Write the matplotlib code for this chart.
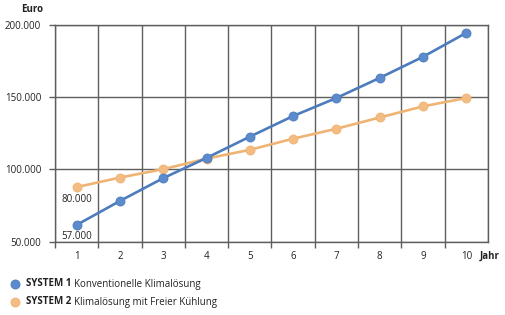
import matplotlib
matplotlib.use("Agg")
import matplotlib.pyplot as plt
from matplotlib.lines import Line2D

plt.rcParams['font.family'] = ['Open Sans', 'DejaVu Sans']

years = [1, 2, 3, 4, 5, 6, 7, 8, 9, 10]
system1 = [61600, 78200, 94000, 108000, 122700, 137000, 149500, 163400, 178000, 194600]
system2 = [87800, 94400, 100200, 107500, 113600, 121300, 128200, 136000, 143700, 149500]
yticks = [50000, 100000, 150000, 200000]
ytick_labels = ["50.000", "100.000", "150.000", "200.000"]
start_labels = ["57.000", "80.000"]
legend_bold = ["SYSTEM 1", "SYSTEM 2"]
legend_text = ["Konventionelle Klimalösung", "Klimalösung mit Freier Kühlung"]

blue_line = "#4c7cbc"
blue_mark = "#5b8bcc"
orange_line = "#efb374"
orange_mark = "#f3bc82"
grid_c = "#5e5e5e"
txt_c = "#222222"
fs = 7

fig = plt.figure(figsize=(5.06, 3.15), dpi=100)
ax = fig.add_axes([0.1087, 0.2327, 0.8557, 0.6879])

ax.set_xlim(0.5, 10.5)
ax.set_ylim(50000, 200000)

ax.set_xticks(years)
ax.set_xticklabels([str(y) for y in years], fontsize=fs, color=txt_c)
ax.set_xticks([y + 0.5 for y in range(0, 10)], minor=True)
ax.tick_params(axis='x', which='major', length=0, pad=7)
ax.tick_params(axis='x', which='minor', length=4, color=grid_c, width=1)
ax.set_yticks(yticks)
ax.set_yticklabels(ytick_labels, fontsize=fs, color=txt_c)
ax.tick_params(axis='y', length=4, color=grid_c, width=1, pad=6)

for xv in [y + 0.5 for y in range(0, 11)]:
    ax.axvline(xv, color=grid_c, lw=1, zorder=1)
for yv in yticks:
    ax.axhline(yv, color=grid_c, lw=1, zorder=1)
for s in ax.spines.values():
    s.set_color(grid_c)
    s.set_linewidth(1)

ax.plot(years, system2, color=orange_line, lw=1.9, marker='o', ms=6.5,
        mfc=orange_mark, mec=orange_line, mew=0.6, zorder=3)
ax.plot(years, system1, color=blue_line, lw=1.9, marker='o', ms=6.5,
        mfc=blue_mark, mec=blue_line, mew=0.6, zorder=4)

ax.annotate(start_labels[0], (years[0], system1[0]), xytext=(0, -8),
            textcoords='offset points', ha='center', va='center', fontsize=fs, color=txt_c)
ax.annotate(start_labels[1], (years[0], system2[0]), xytext=(0, -9),
            textcoords='offset points', ha='center', va='center', fontsize=fs, color=txt_c)

fig.text(43 / 506, 1 - 10 / 315, "Euro", ha='right', va='center', fontsize=fs,
         fontweight='bold', color=txt_c)
fig.text(480 / 506, 1 - 256 / 315, "Jahr", ha='left', va='center', fontsize=fs,
         fontweight='bold', color=txt_c)

# legend
colors_m = [blue_mark, orange_mark]
colors_e = [blue_line, orange_line]
ys = [284, 302]
fig.canvas.draw()
renderer = fig.canvas.get_renderer()
for i in range(2):
    yf = 1 - ys[i] / 315
    fig.add_artist(Line2D([15 / 506], [yf], marker='o', ms=6.5, mfc=colors_m[i],
                          mec=colors_e[i], mew=0.6, transform=fig.transFigure, ls=''))
    t = fig.text(26 / 506, yf, legend_bold[i], ha='left', va='center', fontsize=fs,
                 fontweight='bold', color=txt_c)
    bb = t.get_window_extent(renderer)
    x2 = bb.x1 / fig.bbox.width + 3 / 506
    fig.text(x2, yf, legend_text[i], ha='left', va='center', fontsize=fs, color=txt_c)

fig.savefig("out.png", dpi=100)
